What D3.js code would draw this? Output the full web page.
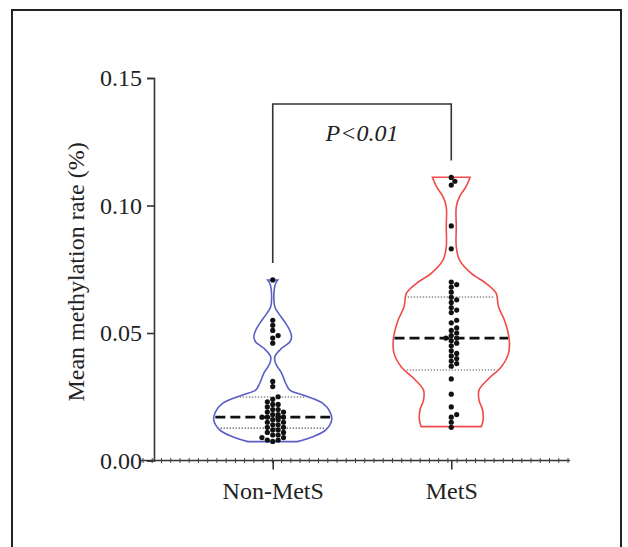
<!DOCTYPE html>
<html>
<head>
<meta charset="utf-8">
<script src="https://cdn.jsdelivr.net/npm/d3@7"></script>
<style>
  body { margin: 0; background: #fff; }
  text { font-family: "Liberation Serif", "Times New Roman", serif; fill: #222; }
</style>
</head>
<body>
<div class="chart"></div>
<script>
const width = 628;
const height = 547;

// groups
const groups = ['Non-MetS', 'MetS'];
const groupColors = ['#5a5ec6', '#ef4a4a'];

// individual values (%)
const nonMets = [0.0708, 0.055, 0.053, 0.051, 0.049, 0.048, 0.046, 0.031, 0.029,
    0.025, 0.024, 0.023, 0.022, 0.022, 0.021, 0.020, 0.020, 0.019, 0.019, 0.018,
    0.018, 0.017, 0.017, 0.017, 0.016, 0.016, 0.015, 0.015, 0.014, 0.014, 0.013,
    0.013, 0.012, 0.012, 0.011, 0.011, 0.010, 0.010, 0.009, 0.009, 0.008, 0.008, 0.0075];
const mets = [0.111, 0.1095, 0.108, 0.092, 0.083, 0.070, 0.069, 0.068, 0.066, 0.064,
    0.063, 0.062, 0.060, 0.059, 0.058, 0.055, 0.054, 0.052, 0.051, 0.050, 0.049,
    0.048, 0.048, 0.047, 0.046, 0.045, 0.043, 0.042, 0.041, 0.040, 0.039, 0.038,
    0.037, 0.032, 0.026, 0.021, 0.018, 0.017, 0.015, 0.013];

// violin outlines: [value, relative density]
const nonMetsDensity = [[0.0074, 0.42], [0.0093, 0.68], [0.012, 0.90], [0.0159, 1.0],
    [0.0191, 0.97], [0.0224, 0.85], [0.0257, 0.51], [0.0276, 0.29], [0.0303, 0.22],
    [0.0343, 0.15], [0.038, 0.05], [0.0407, 0.035], [0.044, 0.15], [0.0465, 0.29],
    [0.0485, 0.32], [0.051, 0.29], [0.0538, 0.22], [0.0577, 0.10], [0.0603, 0.035],
    [0.0669, 0.025], [0.0695, 0.05], [0.0708, 0.085]];
const metsDensity = [[0.0133, 0.51], [0.0159, 0.54], [0.0198, 0.53], [0.0237, 0.47],
    [0.0276, 0.47], [0.0316, 0.61], [0.0368, 0.85], [0.042, 0.97], [0.0479, 0.98],
    [0.0551, 0.90], [0.0603, 0.80], [0.0656, 0.76], [0.0695, 0.59], [0.0734, 0.34],
    [0.0786, 0.14], [0.0838, 0.085], [0.0917, 0.085], [0.0995, 0.085], [0.1035, 0.14],
    [0.1074, 0.25], [0.1111, 0.32]];

// quartile lines
const medians = [0.017, 0.048];
const q1s = [0.0127, 0.0355];
const q3s = [0.0249, 0.0641];

const yTicks = [0, 0.05, 0.10, 0.15];
const pLabel = 'P<0.01';

const svg = d3.select('.chart').append('svg')
    .attr('width', width)
    .attr('height', height)
    .attr('viewBox', `0 0 ${width} ${height}`);

// outer frame (bottom edge is cut off)
svg.append('path')
    .attr('d', 'M12,560V10H621V560')
    .attr('fill', 'none')
    .attr('stroke', '#222')
    .attr('stroke-width', 2);

const yScale = d3.scaleLinear().domain([0, 0.15]).range([460.5, 78]);
const xScale = d3.scalePoint().domain(groups).range([154, 570]).padding(0.665);
const wScale = d3.scaleLinear().domain([0, 1]).range([0, 59]);

/*      y axis       */
svg.append('g')
    .attr('transform', 'translate(154,0)')
    .call(d3.axisLeft(yScale).tickValues(yTicks).tickFormat(d3.format('.2f')).tickSize(7).tickPadding(5))
    .call(g => g.selectAll('path, line').attr('stroke', '#333').attr('stroke-width', 1.6))
    .call(g => g.selectAll('text').attr('font-size', 24).attr('font-family', '"Liberation Serif", serif').attr('fill', '#222'));

svg.append('text')
    .attr('transform', 'translate(76,272) rotate(-90)')
    .attr('text-anchor', 'middle')
    .attr('dy', '0.35em')
    .attr('font-size', 24)
    .text('Mean methylation rate (%)');

/*      x axis       */
const axisStart = 141, axisEnd = 570;
svg.append('line')
    .attr('x1', axisStart).attr('x2', axisEnd)
    .attr('y1', yScale(0)).attr('y2', yScale(0))
    .attr('stroke', '#333').attr('stroke-width', 1.6);
const minor = d3.scaleLinear().domain([0, 46]).range([axisStart + 2, axisEnd - 2]);
svg.append('g').selectAll('line')
    .data(d3.range(0, 47))
    .enter().append('line')
    .attr('x1', d => minor(d)).attr('x2', d => minor(d))
    .attr('y1', yScale(0) - 2.5).attr('y2', yScale(0) + 2.5)
    .attr('stroke', '#444').attr('stroke-width', 1);
svg.append('g')
    .attr('transform', `translate(0,${yScale(0)})`)
    .call(d3.axisBottom(xScale).tickSize(9).tickPadding(12))
    .call(g => g.select('.domain').remove())
    .call(g => g.selectAll('line').attr('stroke', '#333').attr('stroke-width', 1.6))
    .call(g => g.selectAll('text').attr('font-size', 24).attr('font-family', '"Liberation Serif", serif').attr('fill', '#222'));

/*      violins       */
const densities = [nonMetsDensity, metsDensity];
const values = [nonMets, mets];

function halfWidth(dens, v) {
    for (let i = 1; i < dens.length; i++) {
        if (v <= dens[i][0]) {
            const t = (v - dens[i - 1][0]) / (dens[i][0] - dens[i - 1][0]);
            return wScale(dens[i - 1][1] + t * (dens[i][1] - dens[i - 1][1]));
        }
    }
    return wScale(dens[dens.length - 1][1]);
}

groups.forEach((g, i) => {
    const cx = xScale(g);
    const area = d3.area()
        .x0(d => cx - wScale(d[1]))
        .x1(d => cx + wScale(d[1]))
        .y(d => yScale(d[0]))
        .curve(d3.curveCatmullRom);
    svg.append('path')
        .datum(densities[i])
        .attr('d', area)
        .attr('fill', 'none')
        .attr('stroke', groupColors[i])
        .attr('stroke-width', 1.6);

    // quartiles
    [q1s[i], q3s[i]].forEach(q => {
        const hw = halfWidth(densities[i], q) - 2;
        svg.append('line')
            .attr('x1', cx - hw).attr('x2', cx + hw)
            .attr('y1', yScale(q)).attr('y2', yScale(q))
            .attr('stroke', '#555').attr('stroke-width', 1.1)
            .attr('stroke-dasharray', '1.4,1.6');
    });
    const mw = halfWidth(densities[i], medians[i]) - 1;
    svg.append('line')
        .attr('x1', cx - mw).attr('x2', cx + mw)
        .attr('y1', yScale(medians[i])).attr('y2', yScale(medians[i]))
        .attr('stroke', '#111').attr('stroke-width', 2.8)
        .attr('stroke-dasharray', '10,5');

    // points, spread sideways where they overlap
    const r = 2.6;
    const placed = [];
    values[i].slice().sort(d3.ascending).forEach(v => {
        const y = yScale(v);
        let off = 0;
        for (let k = 0; k < 40; k++) {
            off = (k % 2 ? 1 : -1) * Math.ceil(k / 2) * 1.8;
            if (!placed.some(p => Math.hypot(p.x - (cx + off), p.y - y) < r * 1.8)) break;
        }
        placed.push({ x: cx + off, y: y });
    });
    svg.append('g').selectAll('circle')
        .data(placed)
        .enter().append('circle')
        .attr('cx', d => d.x)
        .attr('cy', d => d.y)
        .attr('r', r)
        .attr('fill', '#111');
});

/*      significance bracket       */
const bracketY = 104;
const leg0 = yScale(d3.max(nonMets)) - 17;
const leg1 = yScale(d3.max(mets)) - 17;
svg.append('path')
    .attr('d', `M${xScale(groups[0])},${leg0}V${bracketY}H${xScale(groups[1])}V${leg1}`)
    .attr('fill', 'none')
    .attr('stroke', '#333')
    .attr('stroke-width', 1.6);
svg.append('text')
    .attr('x', (xScale(groups[0]) + xScale(groups[1])) / 2)
    .attr('y', 141)
    .attr('text-anchor', 'middle')
    .attr('font-size', 24)
    .attr('font-style', 'italic')
    .text(pLabel);
</script>
</body>
</html>
